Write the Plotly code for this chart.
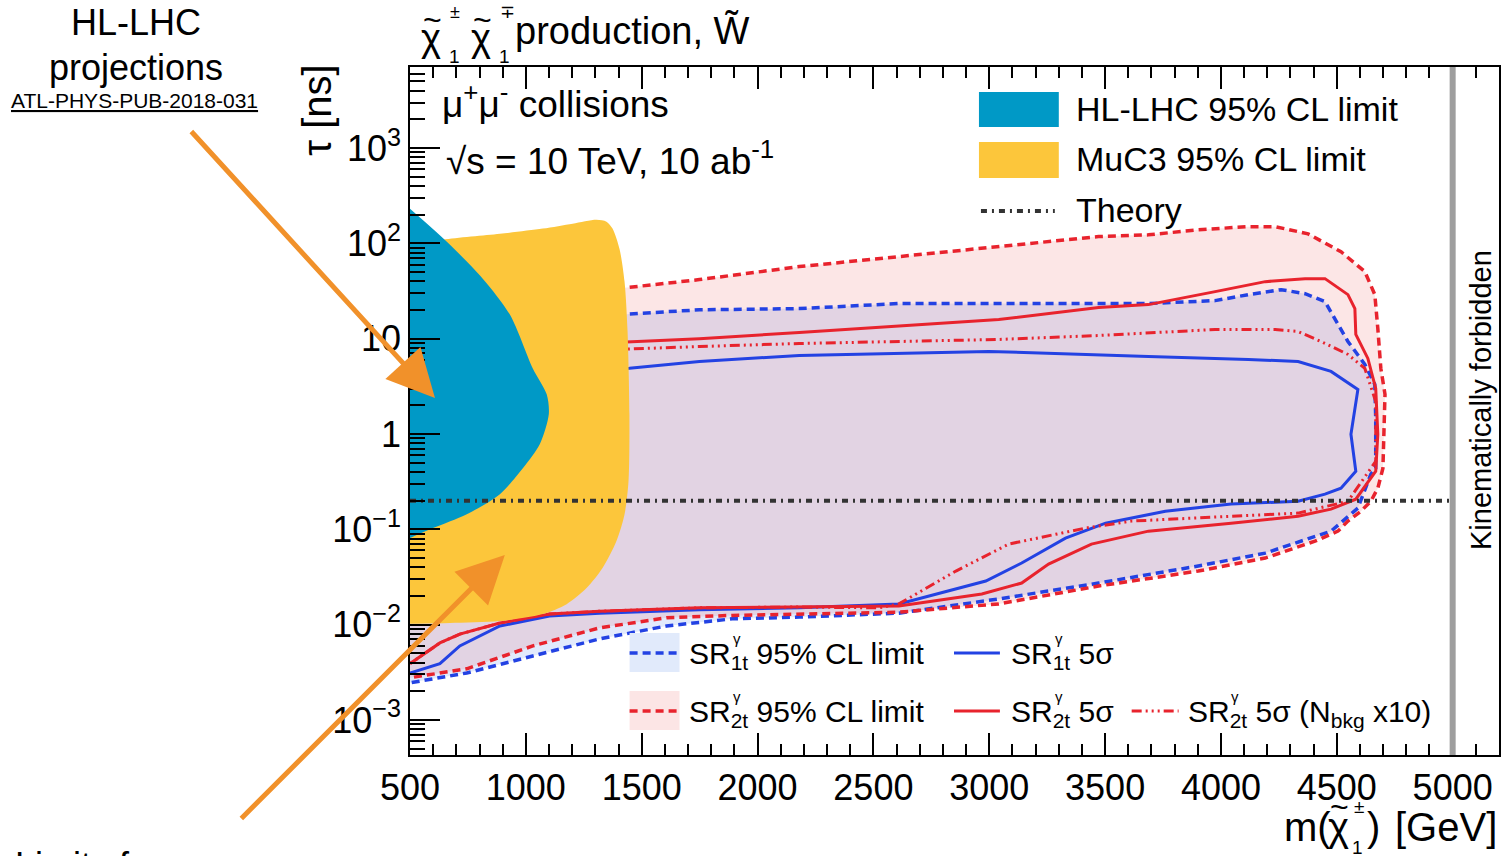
import plotly.graph_objects as go

# ---------------- data (mass in GeV, lifetime tau in ns) ----------------
hl_lhc_mass = [500, 659, 814, 931, 1030, 1090, 1099, 1060, 987, 888, 745, 599, 500]
hl_lhc_tau = [231, 104, 42.7, 17.9, 4.87, 2.61, 1.61, 0.78, 0.437, 0.234, 0.144, 0.103, 0.081]

muc3_mass = [500, 642, 888, 1073, 1202, 1305, 1348, 1374, 1404, 1426, 1439, 1447, 1443,
             1426, 1391, 1331, 1262, 1176, 1073, 888, 672, 500]
muc3_tau = [92, 109, 126, 143, 161, 177, 169, 143, 88, 39.6, 11.9, 1.61, 0.32,
            0.144, 0.0752, 0.0392, 0.0242, 0.0164, 0.0129, 0.0109, 0.0104, 0.0102]

sr2t_95_mass = [500, 1447, 1749, 2180, 3041, 3472, 3687, 3902, 4118, 4234, 4376, 4518, 4621,
                4664, 4677, 4690, 4708, 4703, 4699, 4677, 4647, 4604, 4548, 4505, 4406, 4191,
                3902, 3472, 3041, 2610, 2180, 1891, 1607, 1318, 1030, 745, 500]
sr2t_95_tau = [19.3, 34.4, 41.7, 57.1, 92.5, 118, 123, 139, 150, 150, 126, 81.8, 50.6,
               29, 12.8, 4.88, 2.61, 1.07, 0.437, 0.27, 0.197, 0.155, 0.122, 0.0957, 0.0752, 0.0499,
               0.0365, 0.0254, 0.0165, 0.0135, 0.0129, 0.0125, 0.0118, 0.00924, 0.00598, 0.00344, 0.00277]

sr1t_95_mass = [500, 1447, 1749, 2180, 2610, 3041, 3472, 3687, 3975, 4118, 4260, 4363, 4449,
                4492, 4548, 4621, 4664, 4668, 4668, 4647, 4591, 4475, 4191, 3902, 3472, 3041,
                2610, 2180, 1891, 1607, 1318, 1030, 745, 500]
sr1t_95_tau = [10.5, 18.2, 20.1, 20.7, 23.4, 23.4, 23.4, 23.4, 25.1, 29.0, 32.7, 29.7, 24.5,
               16.3, 9.35, 5.37, 3.32, 1.46, 0.437, 0.379, 0.167, 0.0957, 0.0563, 0.0412, 0.0273, 0.0186,
               0.0132, 0.0120, 0.0115, 0.00968, 0.00708, 0.00469, 0.00311, 0.00245]

sr2t_5s_mass = [500, 1447, 1749, 2180, 3041, 3472, 3687, 3975, 4191, 4363, 4449, 4548, 4578,
                4582, 4634, 4668, 4677, 4668, 4582, 4475, 4333, 4044, 3687, 3441, 3256, 3140,
                2968, 2610, 2180, 1749, 1318, 1102, 888, 715, 629, 500]
sr2t_5s_tau = [7.35, 9.31, 10.0, 11.6, 15.9, 21.2, 22.8, 31.2, 39.7, 42.7, 42.7, 29.0, 20.7,
               11.1, 6.21, 3.01, 0.993, 0.407, 0.207, 0.163, 0.137, 0.116, 0.0957, 0.07, 0.0432, 0.0273,
               0.021, 0.0157, 0.0153, 0.0150, 0.0138, 0.0129, 0.0104, 0.00794, 0.00643, 0.00389]

sr1t_5s_mass = [500, 1447, 1749, 2180, 2998, 3472, 3687, 4118, 4333, 4475, 4591, 4561, 4582,
                4518, 4449, 4333, 4044, 3760, 3502, 3329, 3140, 2985, 2795, 2610, 2180, 1749,
                1318, 1102, 888, 715, 629, 500]
sr1t_5s_tau = [4.03, 4.89, 5.78, 6.67, 7.35, 6.84, 6.52, 6.06, 5.77, 4.54, 2.94, 0.993, 0.407,
               0.27, 0.234, 0.197, 0.184, 0.155, 0.116, 0.0807, 0.0443, 0.0287, 0.0215, 0.0165, 0.015, 0.0143,
               0.0132, 0.0123, 0.00968, 0.00598, 0.00389, 0.00311]

sr2t_5s_bkg10_mass = [500, 1447, 1749, 2180, 3041, 3472, 3975, 4234, 4333, 4432, 4548, 4621,
                      4668, 4668, 4548, 4333, 3902, 3614, 3415, 3084, 2856, 2610, 2524, 2180,
                      1749, 1318, 1102, 888, 715, 629, 500]
sr2t_5s_bkg10_tau = [6.46, 7.89, 8.28, 8.91, 9.82, 10.8, 12.5, 12.5, 11.9, 9.35, 6.84, 4.88,
                     2.19, 0.518, 0.197, 0.148, 0.131, 0.122, 0.103, 0.07, 0.0365, 0.0165, 0.015, 0.0153,
                     0.0150, 0.0138, 0.0129, 0.0104, 0.00794, 0.00643, 0.00389]

theory_mass = [500, 5000]
theory_tau = [0.2, 0.2]
kin_limit = 5000

x_ticks = [500, 1000, 1500, 2000, 2500, 3000, 3500, 4000, 4500, 5000]
x_minor = [m for m in range(600, 5200, 100) if m % 500 != 0]
y_ticks = [1e-3, 1e-2, 1e-1, 1, 10, 100, 1000]
y_ticktext = ["10<sup>−3</sup>", "10<sup>−2</sup>", "10<sup>−1</sup>", "1", "10",
              "10<sup>2</sup>", "10<sup>3</sup>"]
y_minor = [k * 10.0 ** n for n in range(-4, 4) for k in range(2, 10)]

# ---------------- styling ----------------
FONT = "Liberation Sans, Arial, Helvetica, sans-serif"
BLUE = "#2342E3"
RED = "#E8232D"
HL_COL = "#0099C6"
MUC_COL = "#FCC63B"
BLUE_FILL = "rgba(30,90,230,0.13)"
RED_FILL = "rgba(230,30,30,0.11)"
ORANGE = "#F1912A"
DASHDOT3 = "10px,4px,2px,4px,2px,4px,2px,4px"
THEORY_DASH = "6px,5px,2px,5px"

W, H = 1504, 856
L, R, T, B = 410, 1501, 67, 755


def px(xp, yp):
    return (xp - L) / (R - L), (B - yp) / (B - T)


fig = go.Figure()

# light filled areas
fig.add_trace(go.Scatter(x=sr1t_95_mass, y=sr1t_95_tau, fill="toself", fillcolor=BLUE_FILL,
                         line=dict(width=0), mode="lines", hoverinfo="skip"))
fig.add_trace(go.Scatter(x=sr2t_95_mass, y=sr2t_95_tau, fill="toself", fillcolor=RED_FILL,
                         line=dict(width=0), mode="lines", hoverinfo="skip"))
# contour lines
fig.add_trace(go.Scatter(x=sr1t_95_mass, y=sr1t_95_tau, mode="lines",
                         line=dict(color=BLUE, width=3.5, dash="8px,5px")))
fig.add_trace(go.Scatter(x=sr2t_95_mass, y=sr2t_95_tau, mode="lines",
                         line=dict(color=RED, width=3.5, dash="8px,5px")))
fig.add_trace(go.Scatter(x=sr1t_5s_mass, y=sr1t_5s_tau, mode="lines",
                         line=dict(color=BLUE, width=3)))
fig.add_trace(go.Scatter(x=sr2t_5s_mass, y=sr2t_5s_tau, mode="lines",
                         line=dict(color=RED, width=3)))
fig.add_trace(go.Scatter(x=sr2t_5s_bkg10_mass, y=sr2t_5s_bkg10_tau, mode="lines",
                         line=dict(color=RED, width=3, dash=DASHDOT3)))
# MuC3 and HL-LHC limits
fig.add_trace(go.Scatter(x=muc3_mass, y=muc3_tau, fill="toself", fillcolor=MUC_COL,
                         mode="lines", line=dict(width=0, shape="spline", smoothing=0.8)))
fig.add_trace(go.Scatter(x=hl_lhc_mass, y=hl_lhc_tau, fill="toself", fillcolor=HL_COL,
                         mode="lines", line=dict(width=0, shape="spline", smoothing=0.8)))
# theory
fig.add_trace(go.Scatter(x=theory_mass, y=theory_tau, mode="lines",
                         line=dict(color="#333333", width=4, dash=THEORY_DASH)))

shapes = []
# kinematic limit bar
shapes.append(dict(type="line", xref="x", yref="paper", x0=kin_limit, x1=kin_limit, y0=0, y1=1,
                   line=dict(color="#9E9E9E", width=6)))


def box(x0, y0, x1, y1, color):
    a0, b0 = px(x0, y1)
    a1, b1 = px(x1, y0)
    shapes.append(dict(type="rect", xref="paper", yref="paper", x0=a0, y0=b0, x1=a1, y1=b1,
                       fillcolor=color, line=dict(width=0)))


def seg(x0, x1, y, color, width, dash="solid"):
    a0, b = px(x0, y)
    a1, _ = px(x1, y)
    shapes.append(dict(type="line", xref="paper", yref="paper", x0=a0, y0=b, x1=a1, y1=b,
                       line=dict(color=color, width=width, dash=dash)))


# top-right legend
box(980, 92, 1060, 127, HL_COL)
box(980, 142, 1060, 178, MUC_COL)
seg(982, 1056, 211, "#333333", 4, THEORY_DASH)
# bottom legend
box(630, 633, 680, 672, "rgb(225,234,251)")
seg(630, 680, 653, BLUE, 3.5, "8px,5px")
box(630, 691, 680, 730, "rgb(252,229,229)")
seg(630, 680, 711, RED, 3.5, "8px,5px")
seg(955, 1001, 653, BLUE, 3)
seg(955, 1001, 711, RED, 3)
seg(1133, 1180, 711, RED, 3, DASHDOT3)

annotations = []


def text(xp, yp, s, size, xanchor="left", yanchor="middle", angle=0, color="black"):
    a, b = px(xp, yp)
    annotations.append(dict(x=a, y=b, xref="paper", yref="paper", text=s, showarrow=False,
                            xanchor=xanchor, yanchor=yanchor, textangle=angle,
                            font=dict(family=FONT, size=size, color=color)))


# title with stacked indices and tildes
text(419, 38, "χ", 38)
text(433, 20, "~", 32, xanchor="center")
text(448, 12, "±", 18)
text(447, 56, "1", 19)
text(469, 38, "χ", 38)
text(483, 20, "~", 32, xanchor="center")
text(498, 12, "∓", 18)
text(497, 56, "1", 19)
text(513, 31, "production, W̃", 38)

text(440, 102, "μ<sup>+</sup>μ<sup>-</sup> collisions", 37)
text(444, 158, "√s = 10 TeV, 10 ab<sup>-1</sup>", 37)

text(1075, 109, "HL-LHC 95% CL limit", 34)
text(1075, 159, "MuC3 95% CL limit", 34)
text(1075, 210, "Theory", 34)

text(688, 655, "SR<sub>1t</sub> 95% CL limit", 30)
text(732, 638, "γ", 15)
text(1010, 655, "SR<sub>1t</sub> 5σ", 30)
text(1054, 638, "γ", 15)
text(688, 713, "SR<sub>2t</sub> 95% CL limit", 30)
text(732, 696, "γ", 15)
text(1010, 713, "SR<sub>2t</sub> 5σ", 30)
text(1054, 696, "γ", 15)
text(1187, 713, "SR<sub>2t</sub> 5σ (N<sub>bkg</sub> x10)", 30)
text(1231, 696, "γ", 15)

text(1483, 400, "Kinematically forbidden", 29, xanchor="center", angle=-90)

# axis titles
text(316, 63, "τ [ns]", 40, xanchor="center", yanchor="top", angle=-90)
text(1284, 827, "m(", 40)
text(1328, 827, "χ", 40)
text(1341, 807, "~", 32, xanchor="center")
text(1354, 806, "±", 19)
text(1352, 847, "1", 19)
text(1367, 827, ")", 40)
text(1501, 827, "[GeV]", 40, xanchor="right")

# left annotations
text(135, 22, "HL-LHC", 36, xanchor="center")
text(135, 67, "projections", 36, xanchor="center")
text(134, 101, "<u>ATL-PHYS-PUB-2018-031</u>", 21, xanchor="center")
text(12, 843, "Limits from", 36, yanchor="top")

# orange arrows
for tip, tail in [((435, 398), (190, 130)), ((505, 555), (240, 820))]:
    a, b = px(*tip)
    annotations.append(dict(x=a, y=b, xref="paper", yref="paper", text="", showarrow=True,
                            ax=tail[0] - tip[0], ay=tail[1] - tip[1], axref="pixel", ayref="pixel",
                            arrowhead=2, arrowsize=1.9, arrowwidth=5, arrowcolor=ORANGE))

axis_common = dict(showgrid=False, zeroline=False, showline=True, linecolor="black", linewidth=1.5,
                   ticks="inside", tickcolor="black", tickwidth=1.5,
                   tickfont=dict(family=FONT, size=36, color="black"))

fig.update_layout(
    width=W, height=H,
    margin=dict(l=L, r=W - R, t=T, b=H - B, pad=0),
    paper_bgcolor="white", plot_bgcolor="white",
    showlegend=False,
    shapes=shapes, annotations=annotations,
    xaxis=dict(range=[500, 5200], tickmode="array", tickvals=x_ticks, mirror="ticks",
               ticktext=[str(v) for v in x_ticks], ticklen=22,
               minor=dict(tickmode="array", tickvals=x_minor, ticks="inside", ticklen=11,
                          tickcolor="black", tickwidth=1.5, showgrid=False),
               **axis_common),
    yaxis=dict(type="log", range=[-3.368, 3.851], tickmode="array", tickvals=y_ticks, mirror=True,
               ticktext=y_ticktext, ticklen=30,
               minor=dict(tickmode="array", tickvals=y_minor, ticks="inside", ticklen=15,
                          tickcolor="black", tickwidth=1.5, showgrid=False),
               **axis_common),
)

fig.write_html("out.html", config={"displayModeBar": False},
               post_script="document.body.style.margin='0px';document.body.style.padding='0px';"
                           "document.body.style.overflow='hidden';")
